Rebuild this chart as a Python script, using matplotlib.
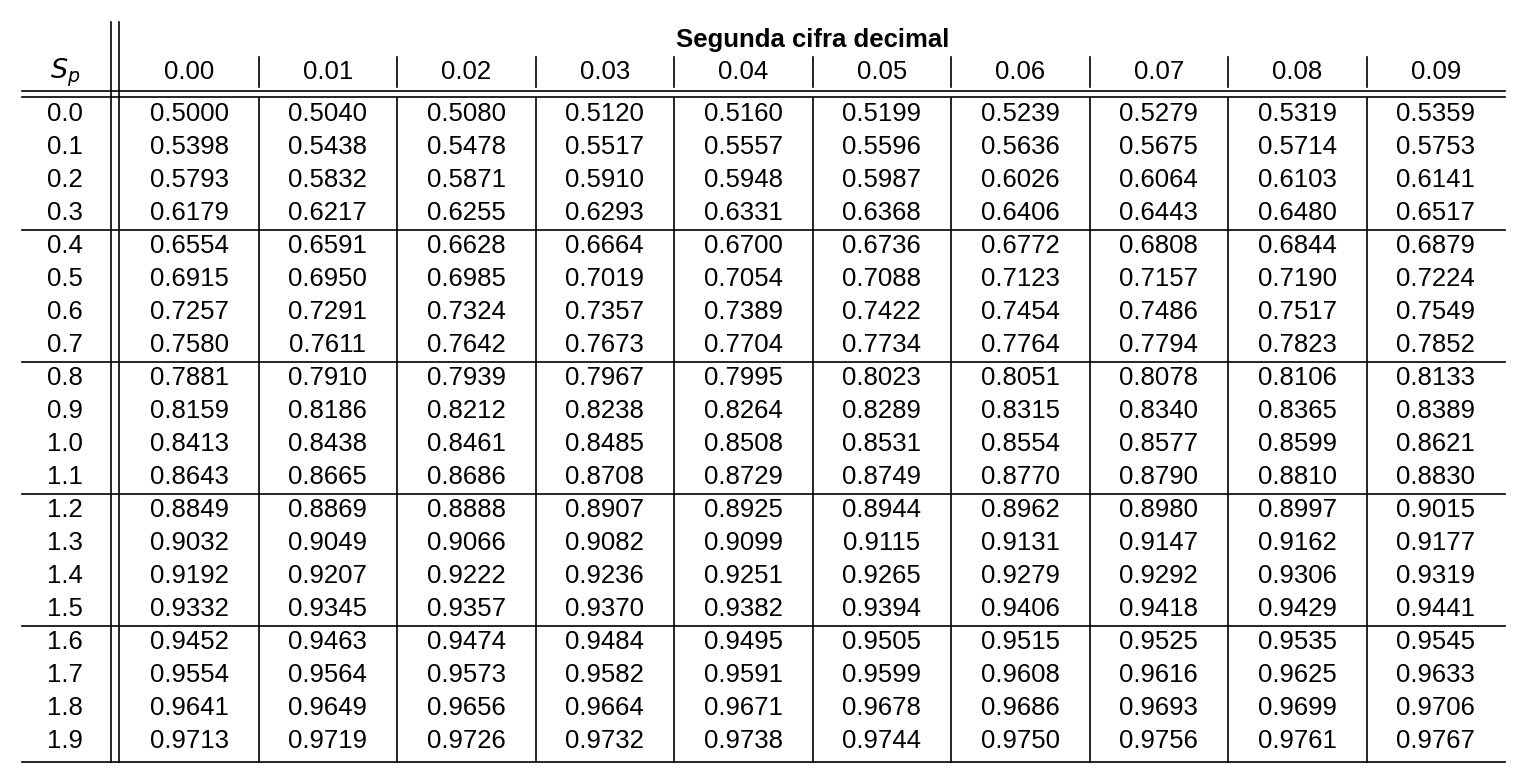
import matplotlib
matplotlib.use("Agg")
import matplotlib.pyplot as plt

row_labels = ["0.0","0.1","0.2","0.3","0.4","0.5","0.6","0.7","0.8","0.9",
              "1.0","1.1","1.2","1.3","1.4","1.5","1.6","1.7","1.8","1.9"]
col_labels = ["0.00","0.01","0.02","0.03","0.04","0.05","0.06","0.07","0.08","0.09"]
header_title = "Segunda cifra decimal"
values = [
 ["0.5000","0.5040","0.5080","0.5120","0.5160","0.5199","0.5239","0.5279","0.5319","0.5359"],
 ["0.5398","0.5438","0.5478","0.5517","0.5557","0.5596","0.5636","0.5675","0.5714","0.5753"],
 ["0.5793","0.5832","0.5871","0.5910","0.5948","0.5987","0.6026","0.6064","0.6103","0.6141"],
 ["0.6179","0.6217","0.6255","0.6293","0.6331","0.6368","0.6406","0.6443","0.6480","0.6517"],
 ["0.6554","0.6591","0.6628","0.6664","0.6700","0.6736","0.6772","0.6808","0.6844","0.6879"],
 ["0.6915","0.6950","0.6985","0.7019","0.7054","0.7088","0.7123","0.7157","0.7190","0.7224"],
 ["0.7257","0.7291","0.7324","0.7357","0.7389","0.7422","0.7454","0.7486","0.7517","0.7549"],
 ["0.7580","0.7611","0.7642","0.7673","0.7704","0.7734","0.7764","0.7794","0.7823","0.7852"],
 ["0.7881","0.7910","0.7939","0.7967","0.7995","0.8023","0.8051","0.8078","0.8106","0.8133"],
 ["0.8159","0.8186","0.8212","0.8238","0.8264","0.8289","0.8315","0.8340","0.8365","0.8389"],
 ["0.8413","0.8438","0.8461","0.8485","0.8508","0.8531","0.8554","0.8577","0.8599","0.8621"],
 ["0.8643","0.8665","0.8686","0.8708","0.8729","0.8749","0.8770","0.8790","0.8810","0.8830"],
 ["0.8849","0.8869","0.8888","0.8907","0.8925","0.8944","0.8962","0.8980","0.8997","0.9015"],
 ["0.9032","0.9049","0.9066","0.9082","0.9099","0.9115","0.9131","0.9147","0.9162","0.9177"],
 ["0.9192","0.9207","0.9222","0.9236","0.9251","0.9265","0.9279","0.9292","0.9306","0.9319"],
 ["0.9332","0.9345","0.9357","0.9370","0.9382","0.9394","0.9406","0.9418","0.9429","0.9441"],
 ["0.9452","0.9463","0.9474","0.9484","0.9495","0.9505","0.9515","0.9525","0.9535","0.9545"],
 ["0.9554","0.9564","0.9573","0.9582","0.9591","0.9599","0.9608","0.9616","0.9625","0.9633"],
 ["0.9641","0.9649","0.9656","0.9664","0.9671","0.9678","0.9686","0.9693","0.9699","0.9706"],
 ["0.9713","0.9719","0.9726","0.9732","0.9738","0.9744","0.9750","0.9756","0.9761","0.9767"],
]

fig = plt.figure(figsize=(15.22, 7.74), dpi=100)
ax = fig.add_axes([0, 0, 1, 1])
ax.set_xlim(0, 1522); ax.set_ylim(774, 0); ax.axis("off")

FONT = "Liberation Sans"; FS = 18.5
x0, x1 = 22, 1505
c0, cw = 120, 138.5
sp_x = 65
row_y0, rh = 114, 33.0
lw = 1.2

def colx(j): return c0 + cw * (j + 0.5)

ax.text(colx(4.5), 40, header_title, ha="center", va="center", fontsize=FS,
        fontweight="bold", family=FONT)
ax.text(sp_x, 73, "$S_p$", ha="center", va="center", fontsize=FS+1, family=FONT)
for j, c in enumerate(col_labels):
    ax.text(colx(j), 72, c, ha="center", va="center", fontsize=FS, family=FONT)
    if j > 0:
        ax.plot([c0 + cw*j]*2, [57, 87], color="black", lw=lw)
        ax.plot([c0 + cw*j]*2, [98, 762], color="black", lw=lw)

for i, r in enumerate(row_labels):
    y = row_y0 + rh*i
    ax.text(sp_x, y, r, ha="center", va="center", fontsize=FS, family=FONT)
    for j, v in enumerate(values[i]):
        ax.text(colx(j), y, v, ha="center", va="center", fontsize=FS, family=FONT)

ax.plot([x0, x1], [91, 91], color="black", lw=lw)
ax.plot([x0, x1], [97, 97], color="black", lw=lw)
for g in range(1, 5):
    y = row_y0 + rh*(4*g) - rh/2
    ax.plot([x0, x1], [y, y], color="black", lw=lw)
ax.plot([x0, x1], [762, 762], color="black", lw=lw)
for xv in (111, 119):
    ax.plot([xv, xv], [22, 762], color="black", lw=lw)

fig.savefig("out.png", dpi=100)
